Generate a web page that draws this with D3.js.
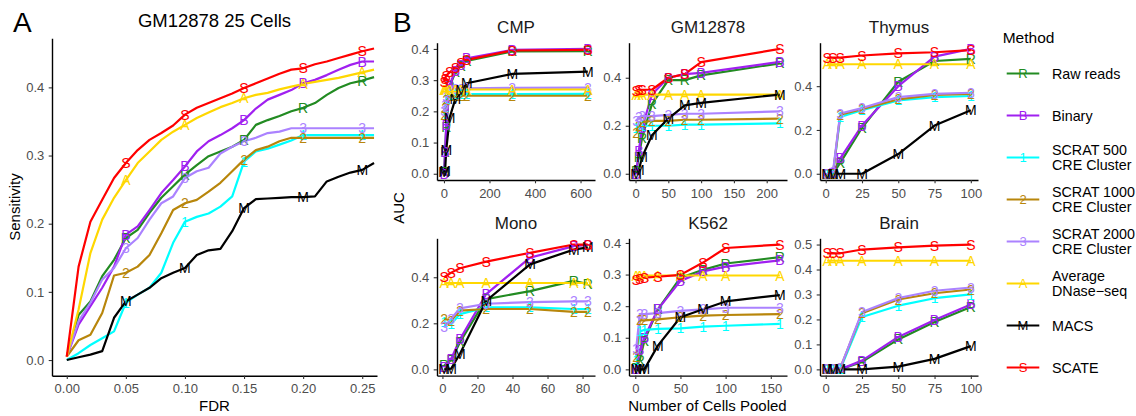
<!DOCTYPE html>
<html lang="en">
<head>
<meta charset="UTF-8">
<title>Sensitivity and AUC by method</title>
<style>
  body { margin: 0; background: #fff; }
  svg { font-family: "Liberation Sans", Arial, sans-serif; }
</style>
</head>
<body>
<svg width="1136" height="416"></svg>
<script src="https://d3js.org/d3.v7.min.js"></script>
<script>
// methods, in legend (and drawing) order
const methods = ["Raw reads", "Binary", "SCRAT 500 CRE Cluster", "SCRAT 1000 CRE Cluster",
  "SCRAT 2000 CRE Cluster", "Average DNase-seq", "MACS", "SCATE"];
const methodLetters = ["R", "B", "1", "2", "3", "A", "M", "S"];
const methodColors = ["#228B22", "#A020F0", "#00FFFF", "#B8860B", "#AB82FF", "#FFD700", "#000000", "#FF0000"];
const legendLines = [["Raw reads"], ["Binary"], ["SCRAT 500", "CRE Cluster"], ["SCRAT 1000", "CRE Cluster"],
  ["SCRAT 2000", "CRE Cluster"], ["Average", "DNase\u2212seq"], ["MACS"], ["SCATE"]];

// ---- panel A: GM12878 25 cells, sensitivity vs FDR
const fdr = [0, 0.01, 0.02, 0.03, 0.04, 0.05, 0.06, 0.07, 0.08, 0.09, 0.10, 0.11, 0.12, 0.13,
  0.14, 0.15, 0.16, 0.17, 0.18, 0.19, 0.20, 0.21, 0.22, 0.23, 0.24, 0.25, 0.26];
const sensRaw = [0.005,0.066,0.086,0.123,0.147,0.179,0.191,0.216,0.238,0.255,0.272,0.286,0.299,0.306,0.313,0.323,0.345,0.352,0.358,0.365,0.37,0.377,0.389,0.399,0.406,0.41,0.415];
const sensBinary = [0.005,0.052,0.079,0.106,0.137,0.184,0.196,0.22,0.245,0.264,0.284,0.306,0.321,0.33,0.34,0.352,0.369,0.382,0.389,0.396,0.406,0.411,0.418,0.426,0.433,0.438,0.438];
const sensScrat500 = [0,0.01,0.022,0.032,0.042,0.084,0.096,0.106,0.128,0.172,0.203,0.21,0.215,0.225,0.24,0.291,0.306,0.31,0.316,0.322,0.33,0.33,0.33,0.33,0.33,0.33,0.33];
const sensScrat1000 = [0.005,0.029,0.037,0.069,0.124,0.128,0.137,0.154,0.186,0.22,0.23,0.235,0.247,0.26,0.277,0.294,0.308,0.313,0.321,0.326,0.326,0.326,0.326,0.326,0.326,0.326,0.326];
const sensScrat2000 = [0.005,0.057,0.084,0.118,0.135,0.164,0.179,0.206,0.23,0.24,0.267,0.277,0.282,0.303,0.313,0.321,0.326,0.333,0.335,0.34,0.34,0.34,0.34,0.34,0.34,0.34,0.34];
const sensAverage = [0.005,0.074,0.157,0.206,0.238,0.264,0.289,0.306,0.323,0.335,0.345,0.355,0.363,0.371,0.377,0.384,0.389,0.392,0.397,0.401,0.405,0.408,0.411,0.414,0.418,0.422,0.426];
const sensMacs = [0,0.004,0.008,0.013,0.062,0.086,0.096,0.106,0.12,0.128,0.135,0.154,0.161,0.163,0.189,0.223,0.236,0.237,0.238,0.239,0.239,0.24,0.262,0.269,0.275,0.279,0.289];
const sensScate = [0.005,0.137,0.203,0.235,0.267,0.289,0.308,0.323,0.333,0.344,0.36,0.37,0.377,0.384,0.391,0.399,0.406,0.413,0.42,0.426,0.428,0.434,0.438,0.443,0.448,0.453,0.457];
const fdrTicks = [0, 0.05, 0.10, 0.15, 0.20, 0.25];
const sensTicks = [0, 0.1, 0.2, 0.3, 0.4];

// ---- panel B: AUC vs number of cells pooled (rows follow the methods order)
const facets = ["CMP", "GM12878", "Thymus", "Mono", "K562", "Brain"];

const cellsCMP = [1, 5, 10, 25, 50, 75, 100, 300, 632];
const aucCMP = [
  [0.005,0.07,0.15,0.28,0.325,0.345,0.362,0.392,0.393],
  [0.0,0.07,0.155,0.285,0.33,0.35,0.37,0.397,0.40],
  [0.19,0.215,0.24,0.253,0.255,0.255,0.255,0.255,0.256],
  [0.19,0.21,0.235,0.248,0.25,0.25,0.25,0.25,0.25],
  [0.2,0.22,0.245,0.27,0.272,0.273,0.274,0.275,0.276],
  [0.27,0.27,0.27,0.27,0.27,0.27,0.27,0.27,0.27],
  [0.005,0.01,0.075,0.18,0.24,0.27,0.29,0.32,0.327],
  [0.295,0.305,0.315,0.325,0.34,0.355,0.365,0.395,0.397]
];

const cellsGM = [1, 5, 10, 25, 50, 75, 100, 220];
const aucGM = [
  [0.01,0.07,0.15,0.29,0.39,0.39,0.41,0.46],
  [0.0,0.095,0.19,0.33,0.40,0.415,0.42,0.466],
  [0.19,0.2,0.2,0.2,0.2,0.205,0.205,0.21],
  [0.17,0.2,0.215,0.22,0.22,0.225,0.225,0.23],
  [0.22,0.235,0.24,0.24,0.245,0.25,0.25,0.26],
  [0.33,0.33,0.33,0.33,0.33,0.33,0.33,0.33],
  [0.0,0.015,0.07,0.16,0.23,0.285,0.295,0.33],
  [0.345,0.35,0.35,0.35,0.40,0.415,0.465,0.52]
];

const cellsThymus = [1, 5, 10, 25, 50, 75, 100];
const aucThymus = [
  [0.0,0.0,0.05,0.21,0.42,0.515,0.525],
  [0.0,0.005,0.07,0.22,0.40,0.535,0.57],
  [0.0,0.0,0.26,0.29,0.335,0.35,0.355],
  [0.0,0.0,0.27,0.295,0.34,0.36,0.365],
  [0.0,0.01,0.275,0.3,0.35,0.365,0.37],
  [0.5,0.5,0.5,0.5,0.5,0.5,0.5],
  [0.0,0.0,0.0,0.0,0.09,0.22,0.29],
  [0.53,0.53,0.53,0.54,0.55,0.555,0.565]
];

const cellsMono = [1, 5, 10, 25, 50, 75, 83];
const aucMono = [
  [0.017,0.04,0.118,0.305,0.34,0.384,0.37],
  [0.01,0.046,0.13,0.327,0.485,0.535,0.54],
  [0.204,0.197,0.24,0.269,0.269,0.262,0.262],
  [0.219,0.212,0.255,0.262,0.262,0.25,0.25],
  [0.183,0.22,0.265,0.285,0.292,0.295,0.295],
  [0.375,0.375,0.375,0.375,0.375,0.375,0.375],
  [0.0,0.003,0.068,0.298,0.456,0.52,0.53],
  [0.40,0.42,0.439,0.468,0.506,0.542,0.542]
];

const cellsK562 = [1, 5, 10, 25, 50, 75, 100, 160];
const aucK562 = [
  [0.005,0.03,0.09,0.19,0.29,0.315,0.335,0.355],
  [0.0,0.06,0.1,0.19,0.28,0.31,0.325,0.345],
  [0.03,0.12,0.125,0.128,0.13,0.135,0.138,0.144],
  [0.04,0.155,0.155,0.158,0.165,0.17,0.172,0.175],
  [0.065,0.175,0.175,0.178,0.185,0.19,0.195,0.195],
  [0.297,0.297,0.297,0.297,0.297,0.297,0.297,0.297],
  [0.0,0.0,0.0,0.075,0.165,0.19,0.215,0.235],
  [0.283,0.285,0.29,0.293,0.299,0.338,0.384,0.395]
];

const cellsBrain = [1, 5, 10, 25, 50, 75, 100];
const aucBrain = [
  [0,0,0,0.03,0.12,0.19,0.25],
  [0,0,0,0.035,0.13,0.198,0.26],
  [0,0,0,0.21,0.255,0.285,0.3],
  [0,0,0.005,0.225,0.28,0.305,0.32],
  [0,0,0.005,0.23,0.286,0.315,0.328],
  [0.435,0.435,0.435,0.435,0.435,0.435,0.435],
  [0,0,0,0,0.011,0.042,0.093],
  [0.465,0.465,0.465,0.48,0.489,0.496,0.5]
];

const facetCells = [cellsCMP, cellsGM, cellsThymus, cellsMono, cellsK562, cellsBrain];
const facetAUC = [aucCMP, aucGM, aucThymus, aucMono, aucK562, aucBrain];
const facetXTicks = [[0, 200, 400, 600], [0, 50, 100, 150, 200], [0, 25, 50, 75, 100],
  [0, 20, 40, 60, 80], [0, 50, 100, 150], [0, 25, 50, 75, 100]];
const facetYTicks = [[0, 0.1, 0.2, 0.3, 0.4], [0, 0.2, 0.4], [0, 0.2, 0.4],
  [0, 0.2, 0.4], [0, 0.1, 0.2, 0.3, 0.4], [0, 0.1, 0.2, 0.3, 0.4, 0.5]];

const svg = d3.select("svg");
let clipCount = 0;

// ggplot style 5% expansion
function expand(ext) {
  const pad = (ext[1] - ext[0]) * 0.05;
  return [ext[0] - pad, ext[1] + pad];
}

function drawPanel(opt) {
  const g = svg.append("g");
  const x = d3.scaleLinear().domain(opt.xDomain).range([opt.left, opt.left + opt.width]);
  const y = d3.scaleLinear().domain(opt.yDomain).range([opt.top + opt.height, opt.top]);

  const clipId = "clip" + (clipCount++);
  svg.append("clipPath").attr("id", clipId).append("rect")
    .attr("x", opt.left).attr("y", opt.top).attr("width", opt.width).attr("height", opt.height);
  const plot = g.append("g").attr("clip-path", `url(#${clipId})`);

  const line = d3.line().x(d => x(d[0])).y(d => y(d[1]));
  plot.selectAll("path.series").data(opt.series).join("path")
    .attr("class", "series")
    .attr("d", s => line(s.points))
    .attr("fill", "none")
    .attr("stroke", s => methodColors[s.m])
    .attr("stroke-width", 2.2)
    .attr("stroke-linejoin", "round");

  plot.selectAll("g.labels").data(opt.series).join("g")
    .attr("class", "labels")
    .each(function(s) {
      d3.select(this).selectAll("text")
        .data(s.points.filter((p, i) => opt.labelAt(i)))
        .join("text")
        .attr("x", d => x(d[0]))
        .attr("y", d => y(d[1]))
        .attr("dy", "0.36em")
        .attr("text-anchor", "middle")
        .attr("font-size", 14)
        .attr("fill", methodColors[s.m])
        .text(methodLetters[s.m]);
    });

  const xAxis = d3.axisBottom(x).tickValues(opt.xTicks).tickFormat(opt.xFmt)
    .tickSizeInner(3.3).tickSizeOuter(0).tickPadding(5);
  const yAxis = d3.axisLeft(y).tickValues(opt.yTicks).tickFormat(d3.format(".1f"))
    .tickSizeInner(3.3).tickSizeOuter(0).tickPadding(4.4);

  const gx = g.append("g").attr("transform", `translate(0,${opt.top + opt.height})`).call(xAxis);
  const gy = g.append("g").attr("transform", `translate(${opt.left},0)`).call(yAxis);
  [gx, gy].forEach(a => {
    a.select(".domain").attr("stroke", "#000").attr("stroke-width", 1.4);
    a.selectAll(".tick line").attr("stroke", "#333").attr("stroke-width", 1.1);
    a.selectAll(".tick text").attr("fill", "#4D4D4D").attr("font-size", 13)
      .attr("font-family", "Liberation Sans, Arial, sans-serif");
  });

  if (opt.strip) {
    g.append("text")
      .attr("x", opt.left + opt.width / 2).attr("y", opt.top - 9.5)
      .attr("text-anchor", "middle").attr("font-size", 17).attr("fill", "#1A1A1A")
      .text(opt.strip);
  }
}

// ---- panel A
const sensAll = [sensRaw, sensBinary, sensScrat500, sensScrat1000, sensScrat2000, sensAverage, sensMacs, sensScate];
drawPanel({
  left: 52, top: 38.3, width: 325, height: 337.4,
  xDomain: [-0.0125, 0.2625], yDomain: [-0.023, 0.472],
  xTicks: fdrTicks, yTicks: sensTicks, xFmt: d3.format(".2f"),
  series: sensAll.map((vals, m) => ({ m, points: fdr.map((f, i) => [f, vals[i]]) })),
  labelAt: i => i > 0 && i % 5 === 0
});

svg.append("text").attr("x", 214.5).attr("y", 26.7).attr("text-anchor", "middle")
  .attr("font-size", 18.5).attr("fill", "#000").text("GM12878 25 Cells");
svg.append("text").attr("x", 13).attr("y", 32).attr("font-size", 28).text("A");
svg.append("text").attr("transform", "translate(19.5,207) rotate(-90)")
  .attr("text-anchor", "middle").attr("font-size", 15).text("Sensitivity");
svg.append("text").attr("x", 214.5).attr("y", 411).attr("text-anchor", "middle")
  .attr("font-size", 15).text("FDR");

// ---- panel B
const colLeft = [437, 629, 820];
const rowTop = [42.7, 238.3];
const panelW = 158, panelH = 137.3;

facets.forEach((name, k) => {
  const cells = facetCells[k];
  const auc = facetAUC[k];
  drawPanel({
    left: colLeft[k % 3], top: rowTop[Math.floor(k / 3)], width: panelW, height: panelH,
    xDomain: expand(d3.extent(cells)),
    yDomain: expand(d3.extent(auc.flat())),
    xTicks: facetXTicks[k], yTicks: facetYTicks[k], xFmt: d3.format("d"),
    series: auc.map((vals, m) => ({ m, points: cells.map((c, i) => [c, vals[i]]) })),
    labelAt: () => true,
    strip: name
  });
});

svg.append("text").attr("x", 393).attr("y", 32).attr("font-size", 28).text("B");
svg.append("text").attr("transform", "translate(404,208) rotate(-90)")
  .attr("text-anchor", "middle").attr("font-size", 15).text("AUC");
svg.append("text").attr("x", 707.5).attr("y", 411).attr("text-anchor", "middle")
  .attr("font-size", 15).text("Number of Cells Pooled");

// ---- legend
const legend = svg.append("g");
legend.append("text").attr("x", 1002.7).attr("y", 43).attr("font-size", 15.5).text("Method");
const keyY = d3.scalePoint().domain(methods).range([73.5, 367.5]);
const keys = legend.selectAll("g.key").data(methods).join("g")
  .attr("class", "key")
  .attr("transform", d => `translate(0,${keyY(d)})`);
keys.append("line").attr("x1", 1006.7).attr("x2", 1039.3)
  .attr("stroke", (d, i) => methodColors[i]).attr("stroke-width", 2.2);
keys.append("text").attr("x", 1023).attr("dy", "0.36em").attr("text-anchor", "middle")
  .attr("font-size", 13).attr("fill", (d, i) => methodColors[i])
  .text((d, i) => methodLetters[i]);
keys.each(function(d, i) {
  const lines = legendLines[i];
  d3.select(this).selectAll("text.lab").data(lines).join("text")
    .attr("class", "lab")
    .attr("x", 1052)
    .attr("y", (t, j) => (j - (lines.length - 1) / 2) * 15)
    .attr("dy", "0.36em")
    .attr("font-size", 14.3)
    .text(t => t);
});
</script>
</body>
</html>
